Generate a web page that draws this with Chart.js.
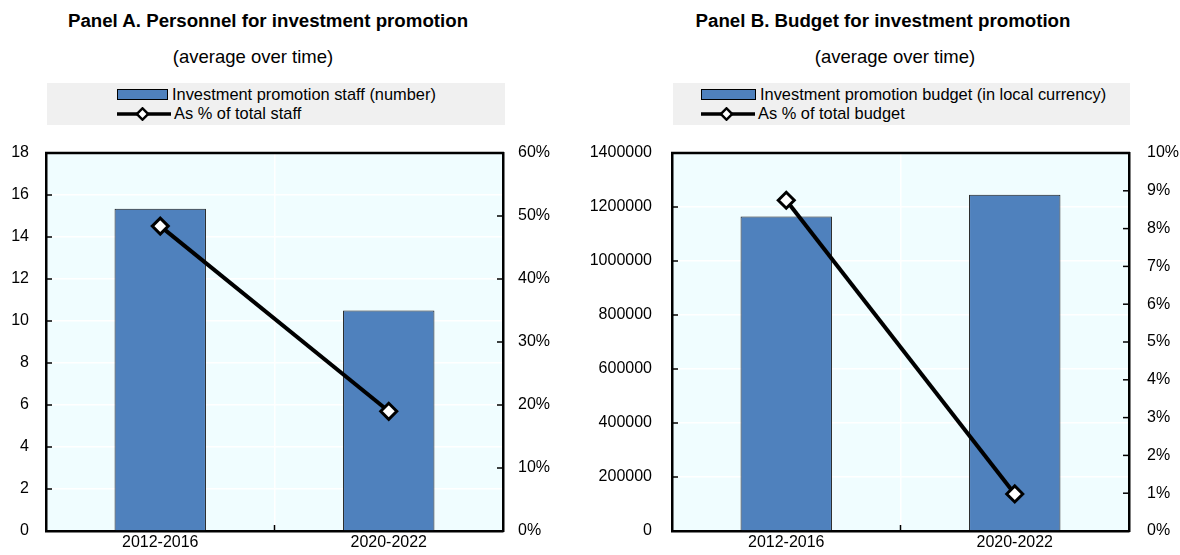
<!DOCTYPE html>
<html>
<head>
<meta charset="utf-8">
<script src="https://cdn.jsdelivr.net/npm/chart.js@4.4.1/dist/chart.umd.min.js"></script>
<style>
  body { margin: 0; width: 1180px; height: 555px; background: #fff; position: relative; overflow: hidden;
         font-family: "Liberation Sans", Arial, sans-serif; color: #000; }
  .title { position: absolute; top: 10px; width: 600px; text-align: center; font-weight: bold; font-size: 18.7px; }
  .sub { position: absolute; top: 46px; width: 400px; text-align: center; font-size: 18.5px; }
  .legend { position: absolute; top: 83px; height: 42px; background: #f0f0f0; font-size: 16.4px; line-height: 16px; }
  .row { position: absolute; white-space: nowrap; }
  .swatch { display: inline-block; width: 49px; height: 9px; background: #4f81bd; border: 1.5px solid #000; vertical-align: middle; margin-right: 4px; position: relative; top: -1px; }
  .linesym { display: inline-block; width: 54px; height: 14px; vertical-align: middle; margin-right: 3px; position: relative; top: -1px; }
  .box { position: absolute; top: 135px; height: 420px; }
</style>
</head>
<body>
<div class="title" style="left:-32px">Panel A. Personnel for investment promotion</div>
<div class="sub" style="left:53px">(average over time)</div>
<div class="legend" style="left:47px;width:458px">
  <div class="row" style="left:70px;top:3px"><span class="swatch"></span>Investment promotion staff (number)</div>
  <div class="row" style="left:70px;top:22px"><svg class="linesym" viewBox="0 0 54 14"><line x1="0" y1="7" x2="54" y2="7" stroke="#000" stroke-width="3.5"/><rect x="21.5" y="3" width="8" height="8" transform="rotate(45 25.5 7)" fill="#fff" stroke="#000" stroke-width="2.5"/></svg>As % of total staff</div>
</div>
<div class="title" style="left:583px">Panel B. Budget for investment promotion</div>
<div class="sub" style="left:695px">(average over time)</div>
<div class="legend" style="left:673px;width:457px">
  <div class="row" style="left:28px;top:3px"><span class="swatch" style="width:53px"></span>Investment promotion budget (in local currency)</div>
  <div class="row" style="left:28px;top:22px"><svg class="linesym" viewBox="0 0 54 14"><line x1="0" y1="7" x2="54" y2="7" stroke="#000" stroke-width="3.5"/><rect x="21.5" y="3" width="8" height="8" transform="rotate(45 25.5 7)" fill="#fff" stroke="#000" stroke-width="2.5"/></svg>As % of total budget</div>
</div>
<div class="box" style="left:0;width:560px"><canvas id="chartA"></canvas></div>
<div class="box" style="left:580px;width:600px"><canvas id="chartB"></canvas></div>
<script>
// data
const categories = ["2012-2016", "2020-2022"];
const staffNumber = [15.35, 10.5];
const staffShare = [48.4, 19.0];
const budgetAmount = [1165000, 1245000];
const budgetShare = [8.75, 0.98];
const staffTicks = { min: 0, max: 18, step: 2 };
const staffShareTicks = { min: 0, max: 60, step: 10 };
const budgetTicks = { min: 0, max: 1400000, step: 200000 };
const budgetShareTicks = { min: 0, max: 10, step: 1 };

const tickFont = { family: "'Liberation Sans', Arial, sans-serif", size: 16 };

// background, top frame and short inward tick marks
const framePlugin = {
  id: "frame",
  beforeDraw(chart) {
    const a = chart.chartArea, ctx = chart.ctx;
    ctx.save();
    ctx.fillStyle = "#f0fdff";
    ctx.fillRect(a.left, a.top, a.right - a.left, a.bottom - a.top);
    ctx.restore();
  },
  afterDraw(chart) {
    const a = chart.chartArea, ctx = chart.ctx;
    const y = chart.scales.y, y1 = chart.scales.y1, x = chart.scales.x;
    ctx.save();
    ctx.strokeStyle = "#000";
    ctx.lineWidth = 2.5;
    ctx.beginPath();
    ctx.moveTo(a.left - 1, a.top);
    ctx.lineTo(a.right + 1, a.top);
    ctx.stroke();
    ctx.lineWidth = 1.5;
    y.ticks.forEach((t) => {
      const py = y.getPixelForValue(t.value);
      ctx.beginPath();
      ctx.moveTo(a.left, py);
      ctx.lineTo(a.left + 6, py);
      ctx.stroke();
    });
    y1.ticks.forEach((t) => {
      const py = y1.getPixelForValue(t.value);
      ctx.beginPath();
      ctx.moveTo(a.right, py);
      ctx.lineTo(a.right - 6, py);
      ctx.stroke();
    });
    const mid = (x.getPixelForValue(0) + x.getPixelForValue(1)) / 2;
    ctx.beginPath();
    ctx.moveTo(mid, a.bottom);
    ctx.lineTo(mid, a.bottom - 6);
    ctx.stroke();
    ctx.restore();
  },
};

function makePanel(id, bars, shares, leftTicks, rightTicks, barLabel, lineLabel, leftWidth, leftPad, rightWidth, rightPad) {
  return new Chart(document.getElementById(id), {
    type: "bar",
    data: {
      labels: categories,
      datasets: [
        {
          type: "line",
          label: lineLabel,
          data: shares,
          yAxisID: "y1",
          borderColor: "#000",
          borderWidth: 4,
          pointStyle: "rectRot",
          pointRadius: 8,
          pointBackgroundColor: "#fff",
          pointBorderColor: "#000",
          pointBorderWidth: 3,
          order: 0,
        },
        {
          label: barLabel,
          data: bars,
          yAxisID: "y",
          backgroundColor: "#4f81bd",
          borderColor: "#1a1a1a",
          borderWidth: 1,
          barPercentage: 0.4,
          categoryPercentage: 1,
          order: 1,
        },
      ],
    },
    options: {
      responsive: true,
      maintainAspectRatio: false,
      animation: false,
      layout: { padding: { top: 18, bottom: 0 } },
      plugins: { legend: { display: false }, tooltip: { enabled: false } },
      scales: {
        x: {
          offset: true,
          grid: { offset: true, color: "#fff", lineWidth: 1.5, drawTicks: false },
          border: { color: "#000", width: 2.5 },
          ticks: { color: "#000", font: tickFont, padding: 2, maxRotation: 0 },
          afterFit: (s) => { s.height = 24; },
        },
        y: {
          position: "left",
          min: leftTicks.min,
          max: leftTicks.max,
          grid: { color: "#fff", lineWidth: 1.5, drawTicks: false },
          border: { color: "#000", width: 2.5 },
          ticks: { stepSize: leftTicks.step, color: "#000", font: tickFont, padding: leftPad, callback: (v) => String(v) },
          afterFit: (s) => { s.width = leftWidth; s.paddingTop = 0; s.paddingBottom = 0; },
        },
        y1: {
          position: "right",
          min: rightTicks.min,
          max: rightTicks.max,
          grid: { drawOnChartArea: false, drawTicks: false },
          border: { color: "#000", width: 2.5 },
          ticks: { stepSize: rightTicks.step, color: "#000", font: tickFont, padding: rightPad, callback: (v) => v + "%" },
          afterFit: (s) => { s.width = rightWidth; s.paddingTop = 0; s.paddingBottom = 0; },
        },
      },
    },
    plugins: [framePlugin],
  });
}

makePanel("chartA", staffNumber, staffShare, staffTicks, staffShareTicks,
  "Investment promotion staff (number)", "As % of total staff", 46, 17, 57, 15);
makePanel("chartB", budgetAmount, budgetShare, budgetTicks, budgetShareTicks,
  "Investment promotion budget (in local currency)", "As % of total budget", 92, 20, 51, 18);
</script>
</body>
</html>
